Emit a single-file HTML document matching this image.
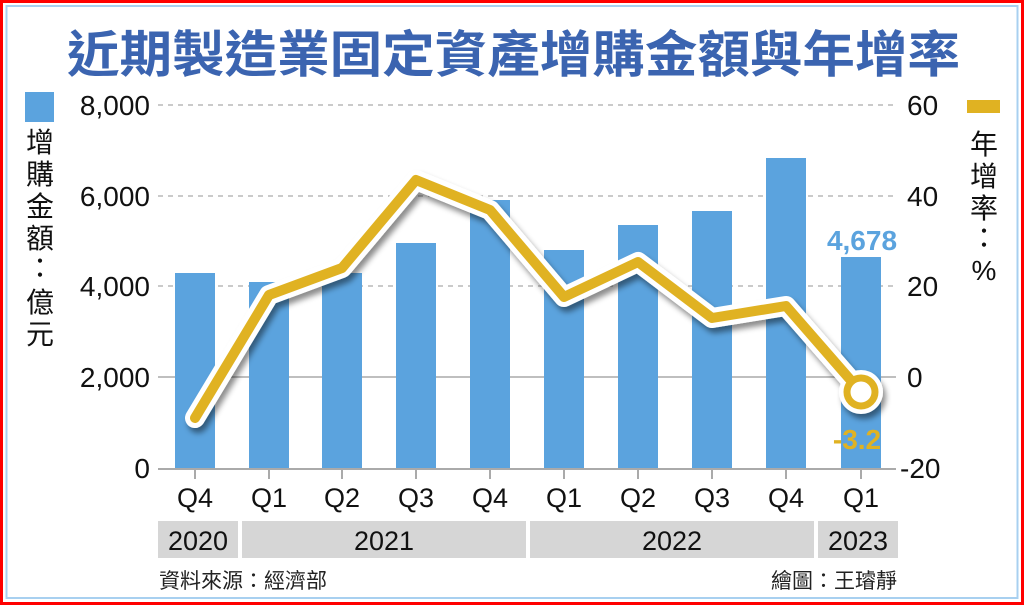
<!DOCTYPE html>
<html><head><meta charset="utf-8"><style>
html,body{margin:0;padding:0;background:#fff}
svg{display:block}
text{font-family:"Liberation Sans","Noto Sans CJK TC",sans-serif}
</style></head><body>
<svg width="1024" height="605" viewBox="0 0 1024 605" xmlns="http://www.w3.org/2000/svg">
<defs><filter id="sh" x="-10%" y="-10%" width="130%" height="140%"><feDropShadow dx="3" dy="5" stdDeviation="3" flood-color="#000" flood-opacity="0.45"/></filter></defs>
<rect x="1.5" y="1.5" width="1021" height="602" fill="none" stroke="#f00" stroke-width="3"/>
<rect x="6.5" y="6" width="1011" height="592" fill="none" stroke="#a8d0f0" stroke-width="2"/>
<text x="67" y="72" textLength="893" lengthAdjust="spacingAndGlyphs" font-size="50" font-weight="bold" fill="#3b64b0">近期製造業固定資產增購金額與年增率</text>
<g stroke="#aaa" stroke-width="1.3" stroke-dasharray="5,5">
<line x1="158" y1="105" x2="896" y2="105"/><line x1="158" y1="196" x2="896" y2="196"/><line x1="158" y1="286" x2="896" y2="286"/>
</g>
<line x1="158" y1="377" x2="896" y2="377" stroke="#aaa" stroke-width="1.5"/>
<g font-size="28" fill="#111" text-anchor="end">
<text x="150" y="115">8,000</text><text x="150" y="206">6,000</text><text x="150" y="296">4,000</text><text x="150" y="387">2,000</text><text x="150" y="478">0</text>
</g>
<g font-size="28" fill="#111">
<text x="907" y="115">60</text><text x="907" y="206">40</text><text x="907" y="296">20</text><text x="907" y="387">0</text><text x="900" y="478">-20</text>
</g>
<rect x="25" y="92" width="29" height="30" fill="#5ba3de"/>
<g font-size="28" fill="#111" text-anchor="middle">
<text x="40" y="152">增</text><text x="40" y="184">購</text><text x="40" y="216">金</text><text x="40" y="248">額</text><text x="40" y="278">：</text><text x="40" y="312">億</text><text x="40" y="344">元</text>
</g>
<rect x="967" y="100" width="33" height="13" fill="#e0b222"/>
<g font-size="28" fill="#111" text-anchor="middle">
<text x="984" y="154">年</text><text x="984" y="186">增</text><text x="984" y="218">率</text><text x="984" y="248">：</text><text x="984" y="280">%</text>
</g>
<g fill="#5ba3de">
<rect x="175" y="273" width="40" height="195"/>
<rect x="249" y="282" width="40" height="186"/>
<rect x="322" y="273" width="40" height="195"/>
<rect x="396" y="243" width="40" height="225"/>
<rect x="470" y="200" width="40" height="268"/>
<rect x="544" y="250" width="40" height="218"/>
<rect x="618" y="225" width="40" height="243"/>
<rect x="692" y="211" width="40" height="257"/>
<rect x="766" y="158" width="40" height="310"/>
<rect x="841" y="257" width="40" height="211"/>
</g>
<line x1="158" y1="469" x2="896" y2="469" stroke="#aaa" stroke-width="2"/>
<g stroke="#aaa" stroke-width="2">
<line x1="195" y1="469" x2="195" y2="479"/><line x1="269" y1="469" x2="269" y2="479"/><line x1="342" y1="469" x2="342" y2="479"/><line x1="416" y1="469" x2="416" y2="479"/><line x1="490" y1="469" x2="490" y2="479"/><line x1="564" y1="469" x2="564" y2="479"/><line x1="638" y1="469" x2="638" y2="479"/><line x1="712" y1="469" x2="712" y2="479"/><line x1="786" y1="469" x2="786" y2="479"/><line x1="861" y1="469" x2="861" y2="479"/>
</g>
<g filter="url(#sh)">
<polyline points="195,418 269,295 342,268 416,180 490,210 564,297 638,262 712,318 786,306 861,392" fill="none" stroke="#fff" stroke-width="20" stroke-linejoin="round" stroke-linecap="round"/>
<circle cx="861" cy="392" r="22" fill="#fff"/>
</g>
<polyline points="195,418 269,295 342,268 416,180 490,210 564,297 638,262 712,318 786,306 861,392" fill="none" stroke="#e0b222" stroke-width="10" stroke-linejoin="round" stroke-linecap="round"/>
<circle cx="861" cy="392" r="14" fill="#fff" stroke="#e0b222" stroke-width="7"/>
<text x="862" y="250" text-anchor="middle" font-size="28" font-weight="bold" fill="#5ba3de">4,678</text>
<text x="857" y="449" text-anchor="middle" font-size="28" font-weight="bold" fill="#e0b222">-3.2</text>
<g font-size="27" fill="#111" text-anchor="middle">
<text x="195" y="507">Q4</text><text x="269" y="507">Q1</text><text x="342" y="507">Q2</text><text x="416" y="507">Q3</text><text x="490" y="507">Q4</text><text x="564" y="507">Q1</text><text x="638" y="507">Q2</text><text x="712" y="507">Q3</text><text x="786" y="507">Q4</text><text x="861" y="507">Q1</text>
</g>
<g fill="#d6d6d6">
<rect x="158" y="521" width="80" height="37"/><rect x="242" y="521" width="284" height="37"/><rect x="530" y="521" width="284" height="37"/><rect x="818" y="521" width="80" height="37"/>
</g>
<g font-size="27" fill="#111" text-anchor="middle">
<text x="198" y="550">2020</text><text x="384" y="550">2021</text><text x="672" y="550">2022</text><text x="858" y="550">2023</text>
</g>
<text x="159" y="588" font-size="21" fill="#222">資料來源：經濟部</text>
<text x="897" y="588" font-size="21" fill="#222" text-anchor="end">繪圖：王璿靜</text>
</svg>
</body></html>
